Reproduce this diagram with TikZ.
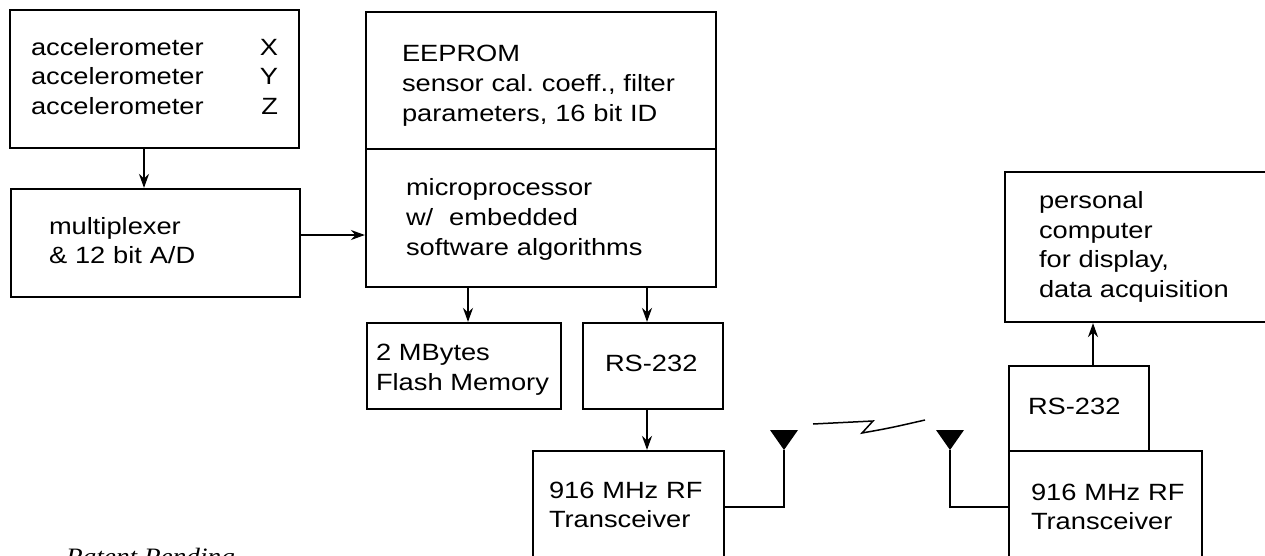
\documentclass[tikz,border=0pt]{standalone}
\usepackage{fontspec}
\setmainfont{Liberation Sans}[FakeStretch=1.16]
\newfontfamily\patentfont{Liberation Serif}[FakeStretch=1.16]
\usetikzlibrary{arrows.meta}
\frenchspacing

\begin{document}
\begin{tikzpicture}[x=1pt,y=-1pt]
\tikzstyle{every node}=[draw,line width=2.2pt,align=left,inner ysep=0pt,font={\fontsize{23.5}{29.7}\selectfont},execute at begin node=\strut,execute at end node=\strut];
\tikzstyle{arr}=[line width=1.9pt,-{Stealth[length=14pt,width=10pt,inset=4.5pt]}];
\useasboundingbox (0,0) rectangle (1265,555);
\node[minimum width=289,minimum height=138,inner xsep=21,text width=247] (acc) at (154.5,79) {accelerometer\hfill X\\accelerometer\hfill Y\\accelerometer\hfill Z};
\node[minimum width=289,minimum height=108,inner xsep=38,text width=213] (mux) at (155.5,243) {multiplexer\\\& 12 bit A/D};
\node[minimum width=350,minimum height=137,inner xsep=36,text width=278,execute at begin node={\rule{0pt}{31pt}}] (eeprom) at (541,80.5) {EEPROM\\sensor cal. coeff., filter\\parameters, 16 bit ID};
\node[minimum width=350,minimum height=138,inner xsep=40,text width=270,execute at begin node={\rule{0pt}{24pt}}] (micro) at (541,218) {microprocessor\\w/\hspace{16pt}embedded\\software algorithms};
\node[minimum width=194,minimum height=86,inner xsep=9,text width=176,execute at begin node={\rule{0pt}{28pt}}] (flash) at (464,366) {2 MBytes\\Flash~Memory};
\node[minimum width=140,minimum height=86,inner xsep=22,text width=96] (rs1) at (653,366) {RS-232};
\node[minimum width=191,minimum height=112,inner xsep=16,text width=159] (rf1) at (628.5,507) {916~MHz~RF\\Transceiver};
\node[minimum width=140,minimum height=85,inner xsep=19,text width=102] (rs2) at (1079,408.5) {RS-232};
\node[minimum width=193,minimum height=116,inner xsep=22,text width=149] (rf2) at (1105.5,509) {916~MHz~RF\\Transceiver};
\node[minimum width=295,minimum height=150,inner xsep=34,text width=227] (pc) at (1152.5,247) {personal\\computer\\for display,\\data acquisition};
\node[draw=none,inner sep=0pt,anchor=base west,font={\patentfont\itshape\fontsize{23.5}{28}\selectfont}] (pat) at (65,564) {Patent Pending};
% antennas
\coordinate (ant1) at (784,450);
\coordinate (ant2) at (950,450);
\fill (ant1) -- ++(-14,-20) -- ++(28,0) -- cycle;
\fill (ant2) -- ++(-14,-20) -- ++(28,0) -- cycle;
\draw[line width=1.9pt] (rf1.east) -| (ant1);
\draw[line width=1.9pt] ([yshift=2pt]rf2.west) -| (ant2);
\draw[line width=1.5pt] (813,424) -- (873,421) -- (862,433) .. controls (890,428) .. (925,420);
\draw[arr] ([xshift=-10.5pt]acc.south) -- ([xshift=-10.5pt]acc.south |- mux.north);
\draw[arr] ([yshift=8pt]mux.east) -- ([yshift=8pt]mux.east -| micro.west);
\draw[arr] ([xshift=-73pt]micro.south) -- ([xshift=-73pt]micro.south |- flash.north);
\draw[arr] ([xshift=-6pt]rs1.north |- micro.south) -- ([xshift=-6pt]rs1.north);
\draw[arr] ([xshift=-6pt]rs1.south) -- ([xshift=-6pt]rs1.south |- rf1.north);
\draw[arr] ([xshift=14pt]rs2.north) -- ([xshift=14pt]rs2.north |- pc.south);
\end{tikzpicture}
\end{document}
